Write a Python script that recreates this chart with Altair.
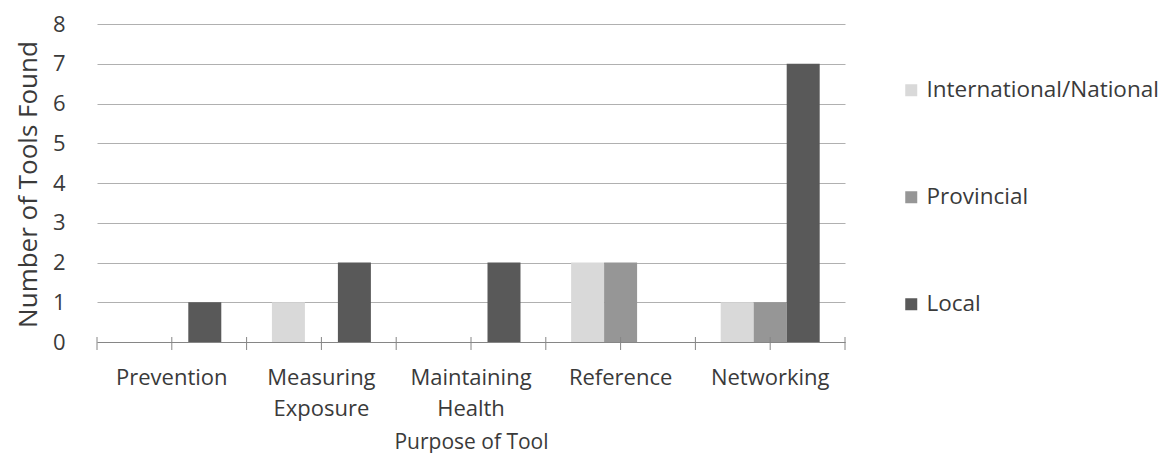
import altair as alt
import pandas as pd

categories = ["Prevention", "Measuring Exposure", "Maintaining Health", "Reference", "Networking"]
series = ["International/National", "Provincial", "Local"]
intl_values = [0, 1, 0, 2, 1]
prov_values = [0, 0, 0, 2, 1]
local_values = [1, 2, 2, 0, 7]
y_ticks = [0, 1, 2, 3, 4, 5, 6, 7, 8]
colors = ["#d9d9d9", "#969696", "#595959"]

rows = []
for i, c in enumerate(categories):
    for s, vals in zip(series, [intl_values, prov_values, local_values]):
        rows.append({"Purpose": c, "Level": s, "Count": vals[i]})
df = pd.DataFrame(rows)
tick_df = pd.DataFrame({"Purpose": categories})
end_df = pd.DataFrame({"Purpose": categories[-1:]})

W, H = 748, 318
FONT = "Open Sans"
TXT = "#3a3a3a"

xscale = alt.Scale(domain=categories, paddingInner=0, paddingOuter=0)

bars = alt.Chart(df).mark_bar().encode(
    x=alt.X("Purpose:N", scale=xscale, sort=categories,
            axis=alt.Axis(title="Purpose of Tool", labelAngle=0, ticks=False,
                          labelExpr="split(datum.label, ' ')",
                          labelLineHeight=31, labelPadding=25,
                          labelFontSize=22, titleFontSize=21, titlePadding=12,
                          domainColor="#868686", labelColor=TXT, titleColor=TXT,
                          titleFontWeight="normal", labelFont=FONT, titleFont=FONT)),
    xOffset=alt.XOffset("Level:N", sort=series,
                        scale=alt.Scale(paddingInner=0, paddingOuter=0.767)),
    y=alt.Y("Count:Q", scale=alt.Scale(domain=[0, 8], nice=False),
            axis=alt.Axis(title="Number of Tools Found", values=y_ticks, domain=False,
                          ticks=False, labelPadding=32, labelFontSize=22,
                          titleFontSize=26, titleX=-61, titleY=160,
                          titleBaseline="alphabetic", gridColor="#b0b0b0",
                          labelColor=TXT, titleColor=TXT, titleFontWeight="normal",
                          labelFont=FONT, titleFont=FONT)),
    color=alt.Color("Level:N", sort=series,
                    scale=alt.Scale(domain=series, range=colors),
                    legend=alt.Legend(title=None, orient="none", legendX=803, legendY=55,
                                      padding=0, rowPadding=84, symbolType="square",
                                      symbolSize=144, symbolStrokeWidth=0,
                                      labelFontSize=22.5, labelOffset=4, labelLimit=400,
                                      labelColor=TXT, labelFont=FONT)),
)

tick_style = dict(color="#868686", strokeWidth=1)
centers = alt.Chart(tick_df).mark_rule(**tick_style).encode(
    x=alt.X("Purpose:N", sort=categories),
    y=alt.value(H - 5), y2=alt.value(H + 8))
starts = alt.Chart(tick_df).mark_rule(**tick_style).encode(
    x=alt.X("Purpose:N", sort=categories, bandPosition=0),
    y=alt.value(H - 5), y2=alt.value(H + 8))
ends = alt.Chart(end_df).mark_rule(**tick_style).encode(
    x=alt.X("Purpose:N", sort=categories, bandPosition=1),
    y=alt.value(H - 5), y2=alt.value(H + 8))

chart = alt.layer(bars, centers, starts, ends).properties(
    width=W, height=H,
    autosize=alt.AutoSizeParams(type="none"),
    padding={"left": 89, "top": 16, "right": 319, "bottom": 111},
    background="white",
).configure_view(stroke=None)

chart.save("out.html", embed_options={"renderer": "svg", "actions": False})
